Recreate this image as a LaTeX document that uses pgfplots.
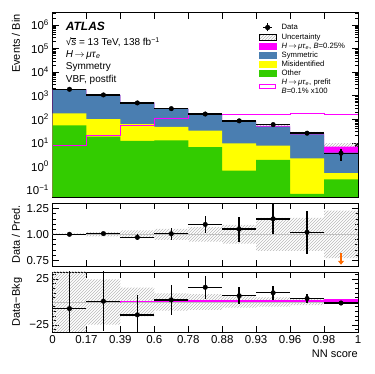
\documentclass[border=0pt]{standalone}
\usepackage{fontspec}
\setmainfont{Liberation Sans}
\usepackage{pgfplots}
\pgfplotsset{compat=1.18}
\usepgfplotslibrary{fillbetween}
\usetikzlibrary{patterns,arrows.meta}
\definecolor{symblue}{HTML}{4A7EB1}
\definecolor{misyellow}{HTML}{FFFF00}
\definecolor{othgreen}{HTML}{33CC00}
\definecolor{sigmag}{HTML}{FF00FF}
\definecolor{arroworange}{HTML}{FF6A00}

\pgfplotsset{
  atlas/.style={
    scale only axis, width=305.5pt, xmin=0, xmax=9,
    xtick={0,1,...,9}, xticklabels={},
    tick align=inside, major tick length=6pt, minor tick length=3pt,
    every tick/.style={black, line width=0.5pt},
    axis line style={line width=0.7pt},
    ticklabel style={font=\fontsize{11.5}{13}\selectfont},
    label style={font=\fontsize{11}{13}\selectfont},
    /pgf/number format/assume math mode=true,
  },
  datapts/.style={black, mark=*, mark size=2.3pt, only marks,
    error bars/x dir=both, error bars/x explicit,
    error bars/y dir=both, error bars/y explicit,
    error bars/error mark=none,
    error bars/error bar style={line width=1.4pt, black}},
  band/.style={pattern=north east lines, pattern color=gray!55},
}

\begin{document}
\begin{tikzpicture}

% ---------------- main panel ----------------
\begin{axis}[atlas, at={(52.5pt,177pt)}, anchor=south west, height=184.3pt,
  ymode=log, ymin=0.05, ymax=3.3e6,
  ytick={0.1,1,10,100,1000,10000,100000,1000000},
  yticklabels={10\textsuperscript{−1},10\textsuperscript{0},10\textsuperscript{1},10\textsuperscript{2},10\textsuperscript{3},10\textsuperscript{4},10\textsuperscript{5},10\textsuperscript{6}},
  minor ytick={0.06,0.07,0.08,0.09,0.2,0.3,0.4,0.5,0.6,0.7,0.8,0.9,2,3,4,5,6,7,8,9,20,30,40,50,60,70,80,90,200,300,400,500,600,700,800,900,2000,3000,4000,5000,6000,7000,8000,9000,20000,30000,40000,50000,60000,70000,80000,90000,200000,300000,400000,500000,600000,700000,800000,900000,2000000,3000000},
  ylabel={Events / Bin},
  ylabel style={at={(axis description cs:-0.1336,0.993)}, anchor=north east, inner sep=0pt},
  legend style={at={(axis description cs:0.676,0.946)}, anchor=north west,
    draw=none, fill=none, inner sep=0pt, row sep=1pt, column sep=5pt,
    font=\fontsize{7.7}{8.6}\selectfont, cells={anchor=west, align=left},
    nodes={inner sep=0.5pt}},
  legend cell align=left,
]
% stacked backgrounds drawn as cumulative tops, largest first
% total (symmetric + misid + other + signal)
\addplot[const plot, fill=sigmag, draw=none, forget plot] coordinates {
  (0,1e-3)(0,1860)(1,1063)(2,505)(3,279)(4,152)(5,81)(6,51.5)(7,25)(8,6.9)(9,6.9)(9,1e-3)};
% symmetric top
\addplot[const plot, fill=symblue, draw=none, forget plot] coordinates {
  (0,1e-3)(0,1859.8)(1,1062.5)(2,504)(3,277)(4,149)(5,78)(6,48.5)(7,22.5)(8,3.8)(9,3.8)(9,1e-3)};
% misidentified top
\addplot[const plot, fill=misyellow, draw=none, forget plot] coordinates {
  (0,1e-3)(0,175)(1,100)(2,62)(3,47)(4,33)(5,9.5)(6,7.6)(7,2.2)(8,0.52)(9,0.52)(9,1e-3)};
% other
\addplot[const plot, fill=othgreen, draw=none, forget plot] coordinates {
  (0,1e-3)(0,55)(1,18)(2,12)(3,12.5)(4,6.5)(5,0.65)(6,1.9)(7,0.068)(8,0.28)(9,0.28)(9,1e-3)};
% uncertainty band
\addplot[const plot, draw=none, name path=mup, forget plot] coordinates {
  (0,1875)(1,1084)(2,524)(3,294)(4,163)(5,88.3)(6,59.7)(7,29)(8,9.6)(9,9.6)};
\addplot[const plot, draw=none, name path=mlo, forget plot] coordinates {
  (0,1845)(1,1042)(2,486)(3,264)(4,141)(5,73.7)(6,43.3)(7,21)(8,5.3)(9,5.3)};
\addplot[band, forget plot] fill between[of=mup and mlo];
% prefit signal x100
\addplot[const plot, sigmag, line width=1pt, forget plot] coordinates {
  (0,8)(1,21)(2,52)(3,112)(4,160)(5,152)(6,166)(7,178)(8,152)(9,152)};
% data
\addplot[forget plot, datapts] coordinates {
  (0.5,1860) +- (0.5,43)
  (1.5,1070) +- (0.5,33)
  (2.5,490) +- (0.5,22)
  (3.5,280) +- (0.5,16.7)
  (4.5,166) +- (0.5,12.9)
  (5.5,85) +- (0.5,9.2)
  (6.5,59) +- (0.5,7.7)
  (7.5,25.5) +- (0.5,5)
  (8.5,3.6) +- (0.5,1.9)};

\addlegendimage{legend image code/.code={
  \draw[black, line width=1.3pt] (8.25pt,-4pt) -- (8.25pt,4pt);
  \draw[black, line width=1.3pt] (4pt,0pt) -- (12.5pt,0pt);
  \fill[black] (8.25pt,0pt) circle (2.4pt);}}
\addlegendentry{Data}
\addlegendimage{legend image code/.code={
  \fill[pattern=north east lines, pattern color=gray!55] (0pt,-2.8pt) rectangle (16.5pt,2.8pt);}}
\addlegendentry{Uncertainty}
\addlegendimage{legend image code/.code={
  \fill[sigmag] (0pt,-2.8pt) rectangle (16.5pt,2.8pt);}}
\addlegendentry{\textit{H}\,$\rightarrow$\,\textit{μτ}\textsubscript{\textit{e}}, \textit{B}=0.25\%}
\addlegendimage{legend image code/.code={
  \fill[symblue] (0pt,-2.8pt) rectangle (16.5pt,2.8pt);}}
\addlegendentry{Symmetric}
\addlegendimage{legend image code/.code={
  \fill[misyellow] (0pt,-2.8pt) rectangle (16.5pt,2.8pt);}}
\addlegendentry{Misidentified}
\addlegendimage{legend image code/.code={
  \fill[othgreen] (0pt,-2.8pt) rectangle (16.5pt,2.8pt);}}
\addlegendentry{Other}
\addlegendimage{legend image code/.code={
  \draw[sigmag, line width=1pt] (0.5pt,-2.3pt) rectangle (16pt,2.3pt);}}
\addlegendentry{\textit{H}\,$\rightarrow$\,\textit{μτ}\textsubscript{\textit{e}}, prefit\\\textit{B}=0.1\% x100}

\node[anchor=west, inner sep=0pt, font=\fontsize{12}{14}\selectfont\bfseries\itshape] at (axis description cs:0.043,0.925) {ATLAS};
\node[anchor=west, inner sep=0pt, font=\fontsize{10}{12}\selectfont] at (axis description cs:0.043,0.84) {√\rlap{\rule[7.3pt]{5pt}{0.45pt}}\textit{s} = 13 TeV, 138 fb\textsuperscript{−1}};
\node[anchor=west, inner sep=0pt, font=\fontsize{10}{12}\selectfont] at (axis description cs:0.043,0.773) {\textit{H}\,$\rightarrow$\,\textit{μτ}\textsubscript{\textit{e}}};
\node[anchor=west, inner sep=0pt, font=\fontsize{10}{12}\selectfont] at (axis description cs:0.043,0.705) {Symmetry};
\node[anchor=west, inner sep=0pt, font=\fontsize{10}{12}\selectfont] at (axis description cs:0.043,0.635) {VBF, postfit};
\end{axis}

% ---------------- ratio panel ----------------
\begin{axis}[atlas, at={(52.5pt,108pt)}, anchor=south west, height=63pt,
  ymin=0.693, ymax=1.303,
  ytick={0.75,1,1.25}, yticklabels={0.75,1.00,1.25},
  minor ytick={0.8,0.85,0.9,0.95,1.05,1.1,1.15,1.2,1.3},
  ylabel={Data / Pred.},
  ylabel style={at={(axis description cs:-0.1336,0.5)}, anchor=north, inner sep=0pt},
]
\addplot[const plot, draw=none, name path=rup] coordinates {
  (0,1.008)(1,1.02)(2,1.037)(3,1.053)(4,1.07)(5,1.09)(6,1.16)(7,1.16)(8,1.23)(9,1.23)};
\addplot[const plot, draw=none, name path=rlo] coordinates {
  (0,0.992)(1,0.98)(2,0.963)(3,0.947)(4,0.93)(5,0.91)(6,0.84)(7,0.84)(8,0.77)(9,0.77)};
\addplot[band] fill between[of=rup and rlo];
\addplot[gray!50, line width=0.5pt] coordinates {(0,1)(9,1)};
\addplot[datapts] coordinates {
  (0.5,1.0) +- (0.5,0.01)
  (1.5,1.007) +- (0.5,0.012)
  (2.5,0.97) +- (0.5,0.03)
  (3.5,1.005) +- (0.5,0.06)
  (4.5,1.095) +- (0.5,0.085)
  (5.5,1.05) +- (0.5,0.12)
  (6.5,1.15) +- (0.5,0.15)
  (7.5,1.02) +- (0.5,0.21)};
\addplot[arroworange, line width=2pt, -{Triangle[width=6pt,length=4pt]},
  quiver={u=0, v=-0.11}] coordinates {(8.5,0.815)};
\end{axis}

% ---------------- data - bkg panel ----------------
\begin{axis}[atlas, at={(52.5pt,42pt)}, anchor=south west, height=60pt,
  ymin=-32.6, ymax=32.6,
  ytick={-25,25}, yticklabels={−25,25},
  minor ytick={-30,-20,-15,-10,-5,0,5,10,15,20,30},
  xticklabels={0,0.17,0.39,0.6,0.78,0.88,0.93,0.96,0.98,1},
  ylabel={Data−Bkg},
  ylabel style={at={(axis description cs:-0.1336,0.5)}, anchor=north, inner sep=0pt},
  xlabel={NN score},
  xlabel style={at={(axis description cs:1,-0.3)}, anchor=north east, inner sep=0pt},
]
\addplot[const plot, draw=none, name path=bup] coordinates {
  (0,40)(1,24.5)(2,15.7)(3,9.5)(4,8.5)(5,6)(6,5)(7,3.4)(8,2)(9,2)};
\addplot[const plot, draw=none, name path=blo] coordinates {
  (0,-40)(1,-24.5)(2,-15.7)(3,-9.5)(4,-8.5)(5,-6)(6,-5)(7,-3.4)(8,-2)(9,-2)};
\addplot[band] fill between[of=bup and blo];
\addplot[gray!50, line width=0.5pt] coordinates {(0,0)(9,0)};
\addplot[const plot, fill=sigmag, draw=sigmag, line width=0.4pt] coordinates {
  (2,0)(2,0.5)(3,1.5)(4,2)(5,2)(6,2)(7,2)(8,2.6)(9,2.6)(9,0)};
\addplot[datapts] coordinates {
  (0.5,-7.2) +- (0.5,43)
  (1.5,0.8) +- (0.5,32.7)
  (2.5,-14) +- (0.5,22)
  (3.5,2.3) +- (0.5,16.5)
  (4.5,16) +- (0.5,12.5)
  (5.5,6.8) +- (0.5,9)
  (6.5,10) +- (0.5,7.5)
  (7.5,3.8) +- (0.5,4.9)
  (8.5,-1.1) +- (0.5,1.9)};
\end{axis}
\path (0,0) rectangle (374pt,374pt);
\end{tikzpicture}
\end{document}
